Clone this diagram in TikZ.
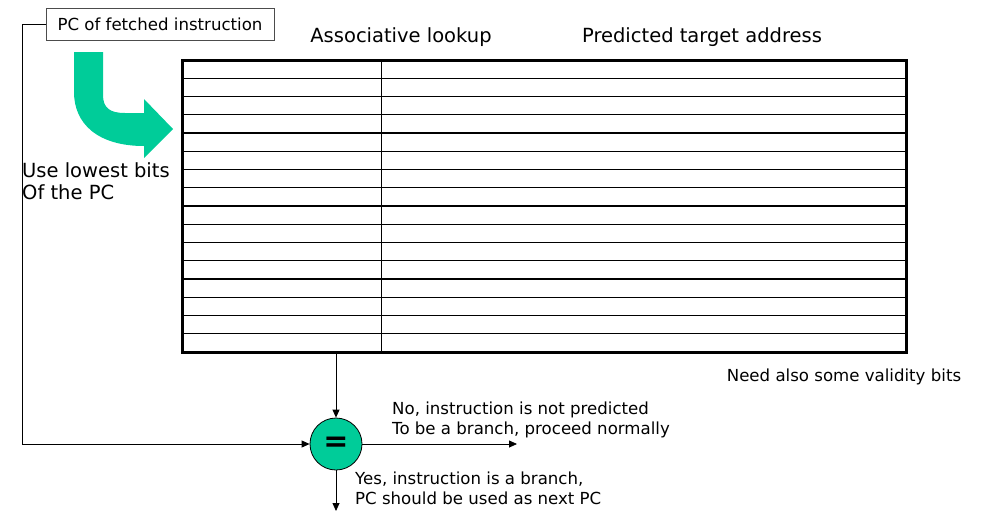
\documentclass[tikz,border=0pt]{standalone}
\usepackage{fontspec}
\setmainfont{DejaVu Sans}
\usetikzlibrary{arrows.meta}
\definecolor{vert}{RGB}{0,204,153}
\newcommand{\grand}[0]{\fontsize{19.5}{22}\selectfont}
\newcommand{\petit}[0]{\fontsize{16.6}{20}\selectfont}
\newcommand{\ligne}[1]{\draw[line width=1.1pt] (181,#1) -- (906,#1)}
\tikzset{fleche/.style={-{Triangle[length=8pt,width=7pt]}, line width=0.8pt}}

\begin{document}
\begin{tikzpicture}[x=1pt, y=-1pt]
\useasboundingbox (0,0) rectangle (991,520);
%The PC box
	\node[draw=black!70, line width=0.8pt, minimum width=228, minimum height=32, inner sep=0pt, font=\petit] (pcbox) at (160,24.5) {PC of fetched instruction};
%The big green arrow
	\fill[vert] (74,52) -- (103,52) -- (103,95) .. controls (103,108) and (110,113) .. (125,113)
		-- (144,113) -- (144,99) -- (173,129) -- (144,158) -- (144,146)
		.. controls (98,146) and (74,124) .. (74,92) -- cycle;
	\node[anchor=west, align=left, inner sep=0pt, font=\grand] (bits) at (22,181) {Use lowest bits\\Of the PC};
%The table
	\node[font=\grand] (assoc) at (401,37) {Associative lookup};
	\node[font=\grand] (cible) at (702,37) {Predicted target address};
	\foreach \y in {1,...,15} {\ligne{60+18.25*\y};}
	\draw[line width=1pt] (381,60) -- (381,352);
	\draw[line width=3pt] (182,60) rectangle (906,352);
	\coordinate (tabbas) at (336,352);
	\node[font=\petit] (valide) at (844,377) {Need also some validity bits};
%The comparator
	\node[circle, draw, fill=vert, line width=0.8pt, minimum size=52, inner sep=0pt] (eq) at (336,444) {\fontsize{30}{30}\selectfont\bfseries =};
	\coordinate (coin) at (22,24.5);
	\coordinate (non) at (517,444);
	\coordinate (oui) at (336,511);
	\draw[fleche] (tabbas) -- (eq.north);
	\draw[fleche] (pcbox.west) -- (coin) |- (eq.west);
	\draw[fleche] (eq.east) -- (non);
	\draw[fleche] (eq.south) -- (oui);
	\node[anchor=west, align=left, inner sep=0pt, font=\petit] (txtnon) at (392,420) {No, instruction is not predicted\\To be a branch, proceed normally};
	\node[anchor=west, align=left, inner sep=0pt, font=\petit] (txtoui) at (355,488) {Yes, instruction is a branch,\\PC should be used as next PC};
\end{tikzpicture}
\end{document}
